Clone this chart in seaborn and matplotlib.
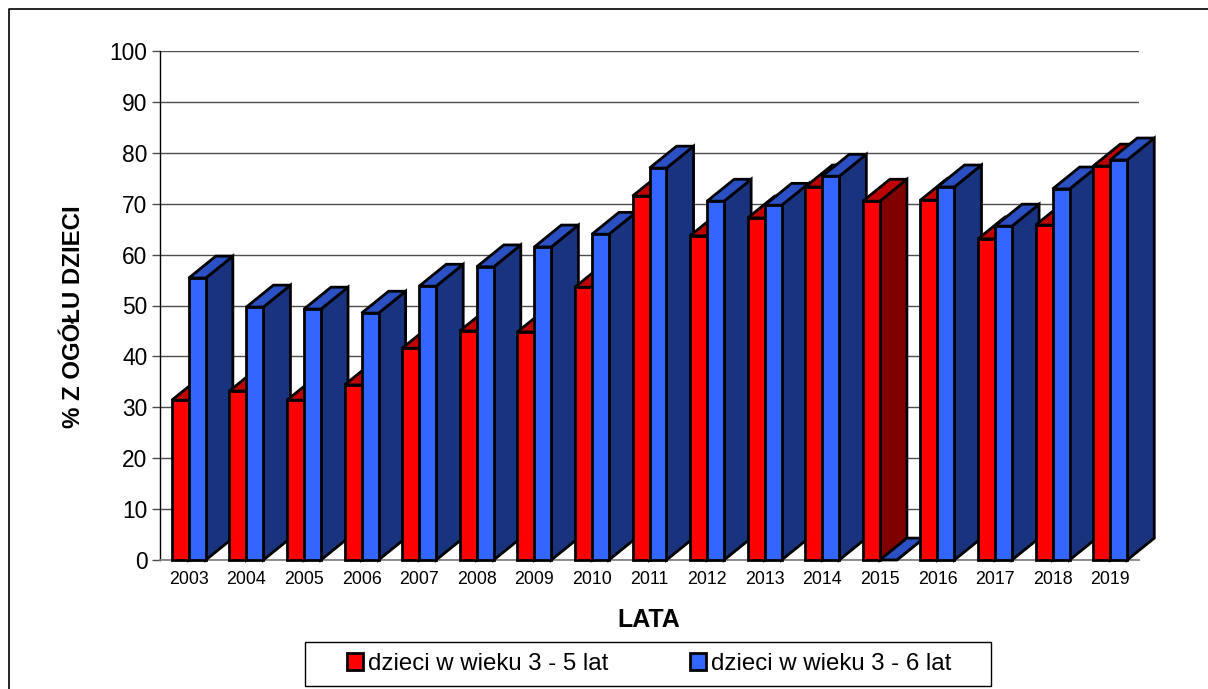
import numpy as np
import pandas as pd
import seaborn as sns
import matplotlib.pyplot as plt
from matplotlib.lines import Line2D
from matplotlib.patches import Polygon, Rectangle

years = [2003, 2004, 2005, 2006, 2007, 2008, 2009, 2010, 2011, 2012, 2013, 2014, 2015, 2016, 2017, 2018, 2019]
age_3_5 = [31.4, 33.2, 31.4, 34.4, 41.6, 45.0, 44.8, 53.6, 71.5, 63.7, 67.2, 73.3, 70.5, 70.7, 63.1, 65.8, 77.4]
age_3_6 = [55.4, 49.7, 49.3, 48.5, 53.8, 57.6, 61.5, 64.0, 77.0, 70.5, 69.7, 75.4, 0.0, 73.3, 65.6, 72.9, 78.6]
series = ['dzieci w wieku 3 - 5 lat', 'dzieci w wieku 3 - 6 lat']

front = ['#ff0000', '#3366ff']
top = ['#c00000', '#2a50c4']
side = ['#800000', '#1a337e']
depth_x, depth_y = 0.47, 4.3
W, H = 1208, 689

sns.set_theme(style='white')
plt.rcParams['font.family'] = ['Liberation Sans', 'DejaVu Sans']

df = pd.DataFrame({'rok': years * 2,
                   'seria': [series[0]] * len(years) + [series[1]] * len(years),
                   'wartosc': age_3_5 + age_3_6})

fig = plt.figure(figsize=(W / 100, H / 100), dpi=100)
ax = fig.add_axes([160 / W, 1 - 560 / H, 979 / W, 509 / H])
sns.barplot(data=df, x='rok', y='wartosc', hue='seria', palette=front, width=0.59, gap=0,
            edgecolor='black', linewidth=2, ax=ax, legend=False, saturation=1)

# fake 3D: extrude every bar up and to the right, painting left to right
for s, cont in enumerate(ax.containers):
    for c, bar in enumerate(cont):
        x0, x1, h = bar.get_x(), bar.get_x() + bar.get_width(), bar.get_height()
        z = 3 + c * 3 + s
        kw = dict(edgecolor='black', linewidth=2, joinstyle='miter', clip_on=False, zorder=z)
        ax.add_patch(Polygon([(x1, 0), (x1 + depth_x, depth_y), (x1 + depth_x, h + depth_y), (x1, h)],
                             facecolor=side[s], **kw))
        ax.add_patch(Polygon([(x0, h), (x0 + depth_x, h + depth_y), (x1 + depth_x, h + depth_y), (x1, h)],
                             facecolor=top[s], **kw))
        bar.set_zorder(z + 0.5)
        bar.set_clip_on(False)
        bar.set_joinstyle('miter')
        if h == 0:
            bar.set_visible(False)

ax.set_xlim(-0.5, 16.5)
ax.set_ylim(0, 100)
ax.set_yticks(np.arange(0, 101, 10))
ax.set_axisbelow(True)
ax.grid(axis='y', color='#4d4d4d', linewidth=1)
for name in ['top', 'right']:
    ax.spines[name].set_visible(False)
ax.spines['left'].set_color('black')
ax.spines['bottom'].set_color('#808080')
ax.spines['left'].set_linewidth(1)
ax.tick_params(axis='y', labelsize=16.4, left=True, length=6, width=1, color='#4d4d4d', pad=3, labelcolor='black')
ax.tick_params(axis='x', labelsize=12.8, length=0, pad=8, labelcolor='black')
ax.set_xlabel('LATA', fontsize=18, fontweight='bold', color='black')
ax.set_ylabel('% Z OGÓŁU DZIECI', fontsize=17.3, fontweight='bold', color='black')
ax.xaxis.set_label_coords(489 / 979, -(620 - 560) / 509)
ax.yaxis.set_label_coords((73 - 160) / 979, (560 - 317) / 509)
ax.xaxis.label.set_verticalalignment('center')
ax.yaxis.label.set_verticalalignment('center')

# legend box is wider than the entries, so the frame is its own patch
fig.add_artist(Rectangle((305.5 / W, 1 - 686 / H), 685 / W, 44 / H, transform=fig.transFigure,
                         facecolor='white', edgecolor='black', linewidth=1))
handles = [Rectangle((0, 0), 1, 1, facecolor=f, edgecolor='black', linewidth=2) for f in front]
fig.legend(handles, series, ncols=2, loc='center', bbox_to_anchor=(649 / W, 1 - 664 / H),
           fontsize=17.3, frameon=False, labelcolor='black',
           handlelength=0.67, handleheight=0.67, handletextpad=0.2, columnspacing=3.4,
           borderpad=0, borderaxespad=0)

# page border: only the left and top edges fall inside the picture
fig.add_artist(Line2D([8.5 / W, 8.5 / W, 1], [0, 1 - 8.5 / H, 1 - 8.5 / H], transform=fig.transFigure,
                      color='black', linewidth=1.2))
fig.savefig('out.png', dpi=100)
